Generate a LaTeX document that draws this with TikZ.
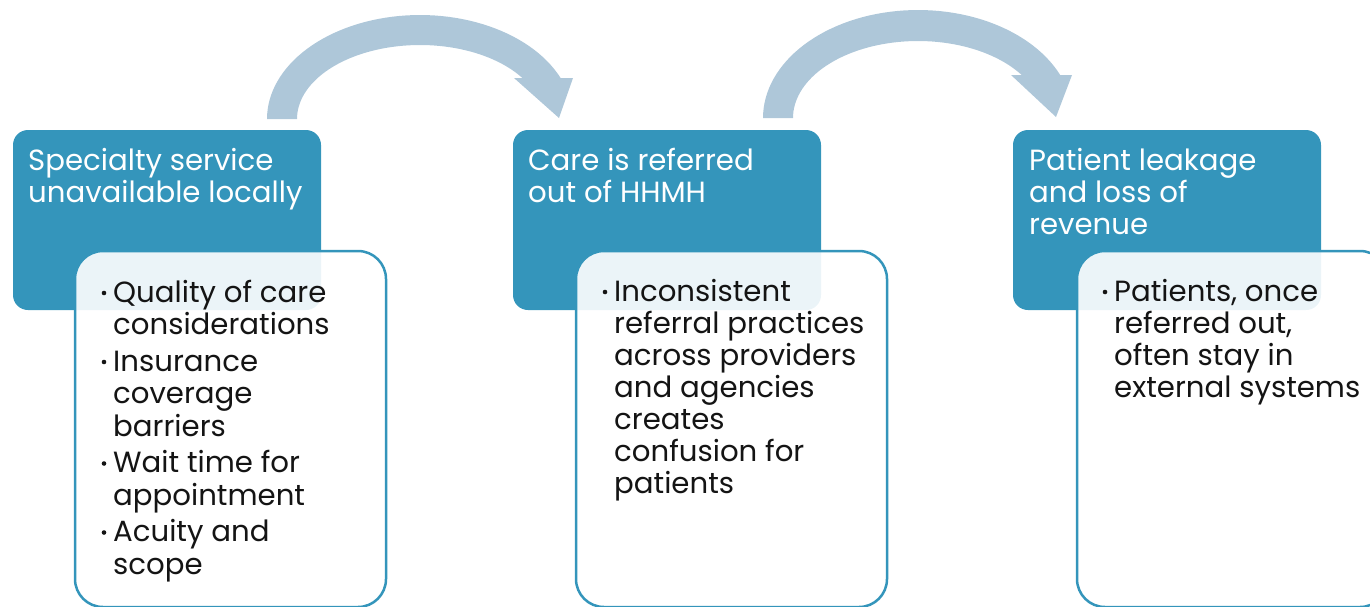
\documentclass[tikz,border=0pt]{standalone}
\usepackage{fontspec}
\setmainfont{Poppins}
\definecolor{boxblue}{RGB}{52,149,187}
\definecolor{arrowblue}{RGB}{174,199,217}
\definecolor{bodyblack}{RGB}{20,20,20}
\begin{document}
\begin{tikzpicture}[x=1pt,y=-1pt,
  headbox/.style={fill=boxblue,rounded corners=15pt},
  listbox/.style={draw=boxblue,line width=2.5pt,fill=white,fill opacity=0.9,rounded corners=28pt},
  title/.style={anchor=base west,inner sep=0pt,text=white,font=\fontsize{29.2}{32}\selectfont},
  body/.style={anchor=base west,inner sep=0pt,text=bodyblack,font=\fontsize{29.2}{32}\selectfont},
  bul/.style={circle,fill=bodyblack,inner sep=0pt,minimum size=4.6pt},
  curved/.style={fill=arrowblue}]
\useasboundingbox (0,0) rectangle (1370,606);

% curved arrows
\fill[curved]
  plot[domain=0:156.78,samples=60,variable=\t] ({420-153*cos(\t)},{119-104*sin(\t)})
  -- (573,78) -- (559,118) -- (514,78) --
  plot[domain=146.36:0,samples=60,variable=\t] ({420-123*cos(\t)},{119-74*sin(\t)})
  -- cycle;
\fill[curved]
  plot[domain=0:156.54,samples=60,variable=\t] ({918-155*cos(\t)},{118-108*sin(\t)})
  -- (1072,75) -- (1056,117) -- (1011,75) --
  plot[domain=146.05:0,samples=60,variable=\t] ({918-125*cos(\t)},{118-77*sin(\t)})
  -- cycle;

% box 1
\path[headbox] (13,130) rectangle (321,310);
\node[title] (h1a) at (28,170) {Specialty service};
\node[title] (h1b) at (28,202) {unavailable locally};
\path[listbox] (75,251) rectangle (386,607);
\foreach \t/\y [count=\i] in {Quality of care/302,considerations/334,Insurance/371,coverage/403.5,barriers/436,Wait time for/472.5,appointment/505,Acuity and/541.5,scope/574}
  \node[body] (b1l\i) at (113,\y) {\t};
\foreach \y [count=\i] in {293,362,463.5,532.5}
  \node[bul] (d1\i) at (104,\y) {};

% box 2
\path[headbox] (513,130) rectangle (821,310);
\node[title] (h2a) at (528,170) {Care is referred};
\node[title] (h2b) at (528,202) {out of HHMH};
\path[listbox] (576,251) rectangle (887,607);
\foreach \t/\y [count=\i] in {Inconsistent/301,referral practices/333,across providers/365,and agencies/397.5,creates/429.5,confusion for/461.5,patients/493.5}
  \node[body] (b2l\i) at (614,\y) {\t};
\node[bul] (d21) at (605,292) {};

% box 3
\path[headbox] (1013,130) rectangle (1321,310);
\node[title] (h3a) at (1029,170) {Patient leakage};
\node[title] (h3b) at (1029,202) {and loss of};
\node[title] (h3c) at (1029,234) {revenue};
\path[listbox] (1077,251) rectangle (1388,607);
\foreach \t/\y [count=\i] in {{Patients, once}/301,{referred out,}/333,often stay in/365,external systems/397}
  \node[body] (b3l\i) at (1114,\y) {\t};
\node[bul] (d31) at (1105,292) {};
\end{tikzpicture}
\end{document}
